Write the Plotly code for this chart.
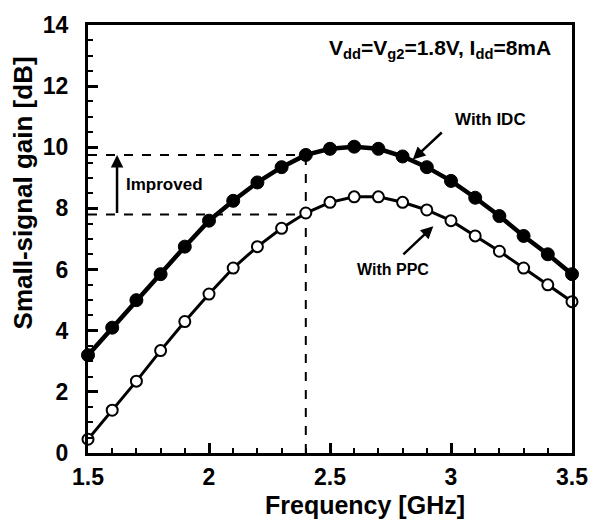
import plotly.graph_objects as go

freq = [1.5, 1.6, 1.7, 1.8, 1.9, 2.0, 2.1, 2.2, 2.3, 2.4, 2.5, 2.6, 2.7, 2.8, 2.9, 3.0, 3.1, 3.2, 3.3, 3.4, 3.5]
gain_idc = [3.2, 4.1, 5.0, 5.85, 6.75, 7.6, 8.25, 8.85, 9.35, 9.75, 9.95, 10.02, 9.95, 9.7, 9.35, 8.9, 8.35, 7.75, 7.1, 6.5, 5.85]
gain_ppc = [0.45, 1.4, 2.35, 3.35, 4.3, 5.2, 6.05, 6.75, 7.35, 7.85, 8.2, 8.38, 8.38, 8.2, 7.95, 7.6, 7.1, 6.6, 6.05, 5.5, 4.95]

font = "Liberation Sans, Arial, sans-serif"
x_range = [1.5, 3.5]
y_range = [0, 14]

fig = go.Figure()
# invisible trace carrying the minor-tick overlay axes
fig.add_trace(go.Scatter(x=x_range, y=y_range, xaxis="x2", yaxis="y2", mode="markers",
                         marker=dict(opacity=0), hoverinfo="skip", showlegend=False))
fig.add_trace(go.Scatter(x=freq, y=gain_idc, mode="lines+markers", name="With IDC",
                         line=dict(color="black", width=4.5),
                         marker=dict(symbol="circle", size=13, color="black",
                                     line=dict(color="black", width=1)),
                         cliponaxis=False))
fig.add_trace(go.Scatter(x=freq, y=gain_ppc, mode="lines+markers", name="With PPC",
                         line=dict(color="black", width=3),
                         marker=dict(symbol="circle", size=11, color="white",
                                     line=dict(color="black", width=2)),
                         cliponaxis=False))

ref_x = 2.4
ref_hi = 9.75
ref_lo = 7.8
dash = dict(color="black", width=2, dash="dash")
fig.add_shape(type="line", x0=1.5, x1=ref_x, y0=ref_hi, y1=ref_hi, line=dash, layer="below")
fig.add_shape(type="line", x0=1.5, x1=ref_x, y0=ref_lo, y1=ref_lo, line=dash, layer="below")
fig.add_shape(type="line", x0=ref_x, x1=ref_x, y0=0, y1=ref_hi, line=dash, layer="below")

fig.add_annotation(x=1.62, y=ref_hi, ax=1.62, ay=ref_lo, xref="x", yref="y", axref="x", ayref="y",
                   showarrow=True, arrowhead=2, arrowsize=1, arrowwidth=2.5, arrowcolor="black", text="")
fig.add_annotation(x=1.65, y=8.78, text="<b>Improved</b>", showarrow=False, xanchor="left",
                   font=dict(family=font, size=17, color="black"))

fig.add_annotation(x=2.842, y=9.6, ax=2.968, ay=10.53, xref="x", yref="y", axref="x", ayref="y",
                   showarrow=True, arrowhead=2, arrowsize=1, arrowwidth=2.5, arrowcolor="black", text="")
fig.add_annotation(x=3.01, y=10.9, text="<b>With IDC</b>", showarrow=False, xanchor="left",
                   font=dict(family=font, size=17, color="black"))

fig.add_annotation(x=2.927, y=7.42, ax=2.797, ay=6.45, xref="x", yref="y", axref="x", ayref="y",
                   showarrow=True, arrowhead=2, arrowsize=1, arrowwidth=2.5, arrowcolor="black", text="")
fig.add_annotation(x=2.76, y=6.0, text="<b>With PPC</b>", showarrow=False, xanchor="center",
                   font=dict(family=font, size=16, color="black"))

fig.add_annotation(x=0.961, y=0.943, xref="paper", yref="paper", xanchor="right", yanchor="middle",
                   text="<b>V<sub>dd</sub>=V<sub>g2</sub>=1.8V, I<sub>dd</sub>=8mA</b>", showarrow=False,
                   font=dict(family=font, size=21, color="black"))

# axis titles
fig.add_annotation(x=0.573, y=-0.122, xref="paper", yref="paper", xanchor="center", yanchor="middle",
                   text="<b>Frequency [GHz]</b>", showarrow=False,
                   font=dict(family=font, size=25, color="black"))
fig.add_annotation(x=-0.135, y=0.608, xref="paper", yref="paper", xanchor="center", yanchor="middle",
                   text="<b>Small-signal gain [dB]</b>", showarrow=False, textangle=-90,
                   font=dict(family=font, size=26, color="black"))

tickfont = dict(family=font, size=23, color="black", weight="bold")
axis_common = dict(showline=True, linecolor="black", linewidth=3, mirror=True,
                   ticks="inside", ticklen=10, tickwidth=3, tickcolor="black",
                   showgrid=False, zeroline=False, tickfont=tickfont)

fig.update_layout(
    xaxis=dict(range=x_range, tick0=1.5, dtick=0.5, ticklabelstandoff=1, **axis_common),
    yaxis=dict(range=y_range, tick0=0, dtick=2, ticklabelstandoff=12, **axis_common),
    xaxis2=dict(range=x_range, overlaying="x", anchor="y2", side="bottom", tick0=1.5, dtick=0.1,
                ticks="inside", ticklen=5, tickwidth=2, tickcolor="black",
                showticklabels=False, showline=False, showgrid=False, zeroline=False),
    yaxis2=dict(range=y_range, overlaying="y", anchor="x2", side="left", tick0=0, dtick=0.5,
                ticks="inside", ticklen=5, tickwidth=2, tickcolor="black",
                showticklabels=False, showline=False, showgrid=False, zeroline=False),
    width=600, height=520, margin=dict(l=88, r=23, t=17, b=67),
    plot_bgcolor="white", paper_bgcolor="white", showlegend=False,
    font=dict(family=font, color="black"))

fig.write_html("out.html")
